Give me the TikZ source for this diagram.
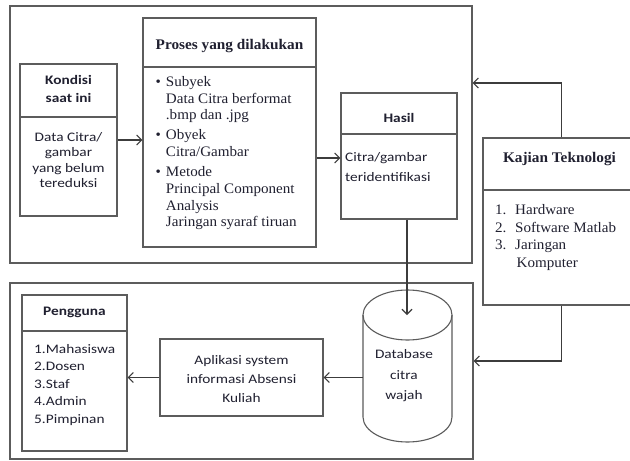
\documentclass[tikz,border=0pt]{standalone}
\usepackage{fontspec}
\setmainfont[FakeStretch=1.04]{Liberation Serif}
\newfontfamily\calfont[FakeStretch=1.18]{Carlito}
\usetikzlibrary{arrows.meta}

\definecolor{linegray}{HTML}{5C5C5C}
\definecolor{linkgray}{HTML}{3C3C3C}
\definecolor{ink}{HTML}{202030}

\begin{document}
\begin{tikzpicture}[x=1pt,y=-1pt,
  frame/.style={draw=linegray, line width=1.2pt, inner sep=0pt},
  box/.style={draw=linegray, line width=1.1pt, fill=white, inner sep=0pt},
  divider/.style={draw=linegray, line width=1.1pt},
  link/.style={draw=linkgray, line width=1.1pt,
    -{Straight Barb[length=5pt,width=10pt,line width=1.1pt]}},
  txt/.style={inner sep=0pt, text=ink, align=center},
  serifhead/.style={txt, font=\fontsize{14.7}{17}\selectfont\bfseries},
  serifbody/.style={txt, font=\fontsize{14.5}{16.7}\selectfont},
  calhead/.style={txt, font=\calfont\fontsize{13}{18}\selectfont\bfseries},
  calbody/.style={txt, font=\calfont\fontsize{13}{15.4}\selectfont},
]
\useasboundingbox (0,0) rectangle (630,461);
\fill[white] (0,0) rectangle (630,461);

% the two large frames
\node[frame, minimum width=462pt, minimum height=257pt] (topframe) at (241,134.5) {};
\node[frame, minimum width=463pt, minimum height=176pt] (botframe) at (241.5,371) {};

% Kondisi saat ini
\node[box, minimum width=97pt, minimum height=152pt] (kondisi) at (68.5,140) {};
\draw[divider] (20,117) -- (117,117);
\node[calhead] (kondisihead) at (68.5,89) {Kondisi\\[-0.5pt]saat ini};
\node[calbody] (kondisibody) at (68.5,160) {Data Citra/\\gambar\\yang belum\\tereduksi};

% Proses yang dilakukan
\node[box, minimum width=173pt, minimum height=229pt] (proses) at (229.5,132.5) {};
\draw[divider] (143,67) -- (316,67);
\node[serifhead] (proseshead) at (229.5,46) {Proses yang dilakukan};
\node[serifbody, anchor=base west, align=left] (prosesbody) at (155.5,86.5) {%
  \begin{tabular}[t]{@{}l@{\hspace{5pt}}l@{}}
  \textbullet & Subyek\\
              & Data Citra berformat\\
              & .bmp dan .jpg\\[3.3pt]
  \textbullet & Obyek\\
              & Citra/Gambar\\[3.3pt]
  \textbullet & Metode\\
              & Principal Component\\
              & Analysis\\
              & Jaringan syaraf tiruan
  \end{tabular}};

% Hasil
\node[box, minimum width=116pt, minimum height=126pt] (hasil) at (399,156) {};
\draw[divider] (341,134) -- (457,134);
\node[calhead] (hasilhead) at (399,117.5) {Hasil};
\node[calbody, anchor=west, align=left, font=\calfont\fontsize{13}{20}\selectfont] (hasilbody) at (345,167) {Citra/gambar\\teridentifikasi};

% Kajian Teknologi
\node[box, minimum width=157pt, minimum height=167pt] (kajian) at (561.5,221.5) {};
\draw[divider] (483,190) -- (640,190);
\node[serifhead] (kajianhead) at (559.5,159) {Kajian Teknologi};
\node[serifbody, anchor=base west, align=left, font=\fontsize{14.5}{17.7}\selectfont] (kajianbody) at (495,214.5) {%
  \begin{tabular}[t]{@{}p{20pt}@{}l@{}}
  1. & Hardware\\
  2. & Software Matlab\\
  3. & Jaringan\\
     & \hspace{1.5pt}Komputer
  \end{tabular}};

% Pengguna
\node[box, minimum width=105pt, minimum height=156pt] (pengguna) at (74.5,373) {};
\draw[divider] (22,331) -- (127,331);
\node[calhead] (penggunahead) at (74.5,312) {Pengguna};
\node[calbody, anchor=west, align=left, font=\calfont\fontsize{13}{17.5}\selectfont] (penggunabody) at (34,385) {1.Mahasiswa\\2.Dosen\\3.Staf\\4.Admin\\5.Pimpinan};

% Aplikasi
\node[box, minimum width=163pt, minimum height=77pt] (aplikasi) at (241.5,377.5) {};
\node[calbody, font=\calfont\fontsize{13}{19}\selectfont] (aplikasitext) at (241.5,379) {Aplikasi system\\informasi Absensi\\Kuliah};

% Database cylinder
\draw[box] (363,315) -- (363,417)
  arc[start angle=180, end angle=360, x radius=44.5pt, y radius=25pt] -- (452,315);
\draw[divider] (407.5,315) ellipse[x radius=44.5pt, y radius=25pt];
\node[minimum width=89pt, minimum height=102pt, inner sep=0pt] (db) at (407.5,366) {};
\node[calbody, font=\calfont\fontsize{13}{20.5}\selectfont] (dbtext) at (404,376) {Database\\citra\\wajah};
\coordinate (dbtop) at (407,315);

% connectors
\coordinate (tk) at (561.5,83);
\coordinate (bk) at (561.5,361);
\draw[link] (kondisi.east) -- (kondisi.east -| proses.west);
\draw[link] (proses.east |- 0,158) -- (hasil.west |- 0,158);
\draw[link] (hasil.south -| dbtop) -- (dbtop);
\draw[link] (kajian.north) |- (tk -| topframe.east);
\draw[link] (kajian.south) |- (bk -| botframe.east);
\draw[link] (aplikasi.east -| db.west) -- (aplikasi.east);
\draw[link] (aplikasi.west) -- (aplikasi.west -| pengguna.east);
\end{tikzpicture}
\end{document}
